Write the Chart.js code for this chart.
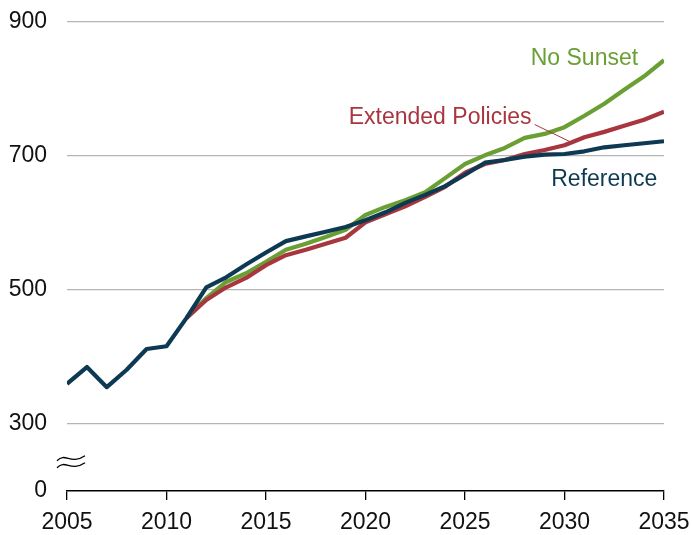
<!DOCTYPE html>
<html>
<head>
<meta charset="utf-8">
<script src="https://cdn.jsdelivr.net/npm/chart.js@4/dist/chart.umd.min.js"></script>
<style>
  html, body { margin: 0; padding: 0; background: #fff; }
  #wrap { width: 692px; height: 535px; position: relative; }
</style>
</head>
<body>
<div id="wrap"><canvas id="c"></canvas></div>
<script>
// years on the x axis
const years = [];
for (let y = 2005; y <= 2035; y++) years.push(y);

// Reference series, 2005-2035
const reference = [360, 385, 355, 381, 412, 416, 458, 504, 519, 538, 556, 573, 580, 587, 594,
  604, 616, 630, 642, 655, 672, 690, 694, 699, 702, 703, 707, 713, 716, 719, 722];

// scenario series start in 2011
const scenarioYears = years.slice(6);
const extendedPolicies = [458, 485, 504, 518, 537, 552, 560, 569, 578, 601, 613, 625, 639, 654,
  675, 688, 694, 703, 709, 716, 728, 736, 745, 754, 766];
const noSunset = [458, 488, 512, 525, 542, 560, 569, 579, 590, 612, 624, 634, 646, 667,
  688, 701, 712, 727, 733, 743, 760, 778, 799, 819, 843];

// y ticks; the 200 slot sits below the axis break and is shown as "0"
const yTicks = [200, 300, 500, 700, 900];
const xTicks = [2005, 2010, 2015, 2020, 2025, 2030, 2035];

const FONT = 'Liberation Sans, Arial, sans-serif';
const NAVY = '#0d3a52';
const RED = '#a8363f';
const GREEN = '#6a9f34';

// direct labels on the lines
const seriesLabels = [
  { text: 'No Sunset', x: 2031.0, y: 846, color: GREEN },
  { text: 'Extended Policies', x: 2023.75, y: 757, color: RED },
  { text: 'Reference', x: 2032.0, y: 664, color: NAVY }
];
const leader = { from: [2028.5, 747], to: [2030.3, 721] };

const pts = (xs, ys) => xs.map((x, i) => ({ x: x, y: ys[i] }));

const annot = {
  id: 'annot',
  afterDatasetsDraw(chart) {
    const { ctx, scales: { x, y } } = chart;
    ctx.save();
    ctx.font = '23px ' + FONT;
    ctx.textAlign = 'center';
    ctx.textBaseline = 'middle';
    seriesLabels.forEach(l => {
      ctx.fillStyle = l.color;
      ctx.fillText(l.text, x.getPixelForValue(l.x), y.getPixelForValue(l.y));
    });
    // leader line for Extended Policies
    ctx.strokeStyle = RED;
    ctx.lineWidth = 1;
    ctx.beginPath();
    ctx.moveTo(x.getPixelForValue(leader.from[0]), y.getPixelForValue(leader.from[1]));
    ctx.lineTo(x.getPixelForValue(leader.to[0]), y.getPixelForValue(leader.to[1]));
    ctx.stroke();

    // axis break mark
    const bx = x.getPixelForValue(2005) - 10;
    const by = y.getPixelForValue(243);
    ctx.strokeStyle = '#000';
    ctx.lineWidth = 1.3;
    [-3.5, 3.5].forEach(off => {
      ctx.beginPath();
      ctx.moveTo(bx, by + off + 2);
      ctx.bezierCurveTo(bx + 9, by + off - 7, bx + 13, by + off + 7, bx + 28, by + off - 3);
      ctx.stroke();
    });
    ctx.restore();
  }
};

new Chart(document.getElementById('c'), {
  type: 'line',
  data: {
    datasets: [
      { label: 'Reference', data: pts(years, reference), borderColor: NAVY, order: 0 },
      { label: 'Extended Policies', data: pts(scenarioYears, extendedPolicies), borderColor: RED, order: 1 },
      { label: 'No Sunset', data: pts(scenarioYears, noSunset), borderColor: GREEN, order: 2 }
    ]
  },
  options: {
    responsive: true,
    maintainAspectRatio: false,
    animation: false,
    layout: { padding: { top: 22, right: 28, left: 0, bottom: 0 } },
    elements: {
      line: { borderWidth: 4.2, tension: 0, fill: false, borderJoinStyle: 'round' },
      point: { radius: 0, hoverRadius: 0 }
    },
    plugins: { legend: { display: false }, tooltip: { enabled: false } },
    scales: {
      x: {
        type: 'linear', min: 2005, max: 2035,
        afterBuildTicks: s => { s.ticks = xTicks.map(v => ({ value: v })); },
        afterFit: s => { s.height = 44; s.paddingLeft = 0; s.paddingRight = 0; },
        grid: { drawOnChartArea: false, color: '#000', tickLength: 9, lineWidth: 1.3 },
        border: { color: '#000', width: 1.5 },
        ticks: { color: '#111', font: { family: FONT, size: 23 }, padding: 9, maxRotation: 0,
          callback: v => String(v) }
      },
      y: {
        type: 'linear', min: 200, max: 900,
        afterBuildTicks: s => { s.ticks = yTicks.map(v => ({ value: v })); },
        afterFit: s => { s.width = 67; s.paddingTop = 0; s.paddingBottom = 0; },
        grid: {
          drawTicks: false,
          color: c => (c.tick && c.tick.value === 200) ? 'rgba(0,0,0,0)' : '#b5b5b5',
          lineWidth: 1.2
        },
        border: { display: false },
        ticks: { color: '#111', font: { family: FONT, size: 23 }, padding: 20,
          callback: v => (v === 200 ? '0' : String(v)) }
      }
    }
  },
  plugins: [annot]
});
</script>
</body>
</html>
